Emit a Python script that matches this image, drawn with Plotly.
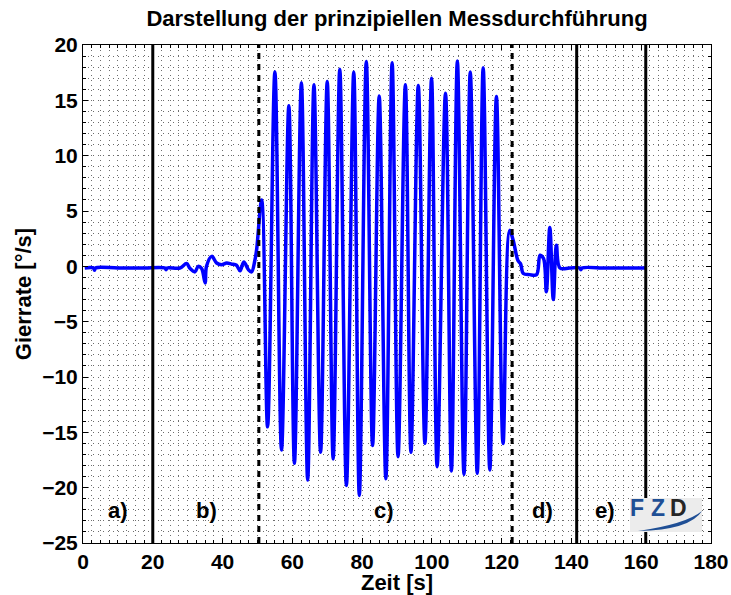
import plotly.graph_objects as go

# Yaw-rate recording (time in s, yaw rate in deg/s)
zeit = [0.5, 3.0, 3.3, 3.6, 10.0, 17.0, 23.5, 23.8, 24.1, 27.8, 29.7, 30.7,
        32.1, 33.0, 34.0, 35.0, 35.4, 36.9, 38.3, 39.7, 41.2, 42.6, 44.0,
        45.0, 46.1, 47.4, 48.3, 49.3, 49.8, 51.2, 52.9, 55.0, 56.9, 59.0,
        60.6, 62.6, 64.4, 66.2, 68.1, 70.0, 71.7, 73.6, 75.5, 77.6, 79.2,
        81.2, 83.0, 84.9, 86.8, 88.6, 90.3, 92.4, 94.0, 96.1, 98.0, 99.9,
        101.5, 103.9, 105.6, 107.3, 109.2, 111.0, 113.0, 114.7, 116.6, 118.5,
        120.4, 122.3, 123.3, 124.7, 125.4, 126.2, 128.0, 130.0, 131.0, 132.0,
        132.8, 133.8, 134.8, 135.7, 136.7, 139.5, 142.4, 142.7, 143.0, 150.0,
        161.3]
gierrate = [-0.15, -0.15, -0.35, -0.15, -0.15, -0.15, -0.15, -0.3, -0.15,
            -0.15, 0.25, -0.2, -0.5, 0.0, -0.2, -1.5, 0.0, 0.9, 0.3, 0.15, 0.3,
            0.2, 0.1, -0.4, 0.4, -0.3, -0.5, 0.6, 1.6, 6.0, -14.5, 17.55,
            -16.6, 14.5, -17.8, 16.6, -19.3, 16.4, -16.8, 16.7, -17.4, 17.8,
            -19.8, 17.55, -20.7, 18.5, -16.2, 15.4, -19.2, 18.4, -17.2, 16.4,
            -16.8, 16.35, -16.0, 17.0, -18.1, 15.65, -18.5, 18.55, -18.8,
            17.55, -18.7, 17.95, -18.4, 15.35, -16.0, 3.25, 2.35, 0.5, 0.25,
            -0.65, -0.75, -0.75, 1.0, 0.7, -2.3, 3.5, -3.0, 1.9, -0.15, -0.15,
            -0.15, -0.3, -0.15, -0.15, -0.15]

# Phase boundaries of the test run
grenzen_solid = [20.0, 141.5, 161.3]
grenzen_dashed = [50.4, 123.0]

# Phase labels
phasen = ["a)", "b)", "c)", "d)", "e)"]
phasen_x = [10.0, 35.5, 86.2, 131.8, 149.6]
phasen_y = -22.1

x_ticks = list(range(0, 181, 20))
y_ticks = list(range(-25, 21, 5))

FONT = "Liberation Sans, Arial, Helvetica, sans-serif"
W, H = 731, 595
ML, MR, MT, MB = 83, 20, 45, 52
GRID_COL = "#6e6e6e"
GRID_DASH = "1px,4px"

fig = go.Figure()

fig.add_trace(go.Scatter(
    x=zeit, y=gierrate, mode="lines",
    line=dict(color="#0000ff", width=3.5, shape="spline", smoothing=1.0),
    showlegend=False, hoverinfo="skip"))

for xv in grenzen_solid:
    fig.add_shape(type="line", xref="x", yref="y", x0=xv, x1=xv, y0=-25, y1=20,
                  line=dict(color="black", width=3), layer="above")
for xv in grenzen_dashed:
    fig.add_shape(type="line", xref="x", yref="y", x0=xv, x1=xv, y0=-25, y1=20,
                  line=dict(color="black", width=3, dash="6px,5px"), layer="above")

for lbl, xv in zip(phasen, phasen_x):
    fig.add_annotation(x=xv, y=phasen_y, text=lbl, showarrow=False,
                       font=dict(family=FONT, size=22, color="black", weight="bold"))

# FZD logo in the lower right corner
plot_w = W - ML - MR
plot_h = H - MT - MB


def px2p(px, py):
    return (px - ML) / plot_w, (H - MB - py) / plot_h


bx0, by0 = px2p(630, 532)
bx1, by1 = px2p(702, 498)
fig.add_shape(type="rect", xref="paper", yref="paper", x0=bx0, x1=bx1, y0=by0, y1=by1,
              fillcolor="#ececec", line=dict(width=0), layer="above")
for ch, cx, col in [("F", 636.5, "#1f4f95"), ("Z", 657.5, "#1f4f95"), ("D", 678.5, "#262626")]:
    ax_, ay_ = px2p(cx, 508)
    fig.add_annotation(xref="paper", yref="paper", x=ax_, y=ay_, text=ch, showarrow=False,
                       xanchor="center", yanchor="middle",
                       font=dict(family=FONT, size=23, color=col, weight="bold"))
pts = [(638, 531), (690, 530), (702, 511), (686, 524), (638, 531)]
pp = [px2p(a, b) for a, b in pts]
path = (f"M {pp[0][0]},{pp[0][1]} Q {pp[1][0]},{pp[1][1]} {pp[2][0]},{pp[2][1]} "
        f"Q {pp[3][0]},{pp[3][1]} {pp[4][0]},{pp[4][1]} Z")
fig.add_shape(type="path", xref="paper", yref="paper", path=path,
              fillcolor="#1f4f95", line=dict(width=0), layer="above")

grid = dict(showgrid=True, gridcolor=GRID_COL, gridwidth=1, griddash=GRID_DASH)
tickfont = dict(family=FONT, size=21, color="black", weight="bold")
titlefont = dict(family=FONT, size=22, color="black", weight="bold")

fig.update_xaxes(
    range=[0, 180], tickvals=x_ticks, ticks="inside", ticklen=5, tickwidth=1,
    tickcolor="black", showline=True, linecolor="black", linewidth=1, mirror="ticks",
    zeroline=False, **grid,
    minor=dict(dtick=2.5, ticks="inside", ticklen=3, tickcolor="black", **grid),
    tickfont=tickfont,
    title=dict(text="Zeit [s]", standoff=0, font=titlefont))
fig.update_yaxes(
    range=[-25, 20], tickvals=y_ticks, ticks="inside", ticklen=5, tickwidth=1,
    tickcolor="black", showline=True, linecolor="black", linewidth=1, mirror="ticks",
    zeroline=False, **grid,
    minor=dict(dtick=1, ticks="inside", ticklen=3, tickcolor="black", **grid),
    tickfont=tickfont,
    title=dict(text="Gierrate [°/s]", standoff=4, font=titlefont))

fig.update_layout(
    width=W, height=H,
    margin=dict(l=ML, r=MR, t=MT, b=MB, autoexpand=False),
    paper_bgcolor="white", plot_bgcolor="white",
    title=dict(text="Darstellung der prinzipiellen Messdurchführung",
               x=0.5, xref="paper", y=1 - 18 / H, yref="container", yanchor="middle",
               font=dict(family=FONT, size=22, color="black", weight="bold")),
)

fig.write_html("out.html")
